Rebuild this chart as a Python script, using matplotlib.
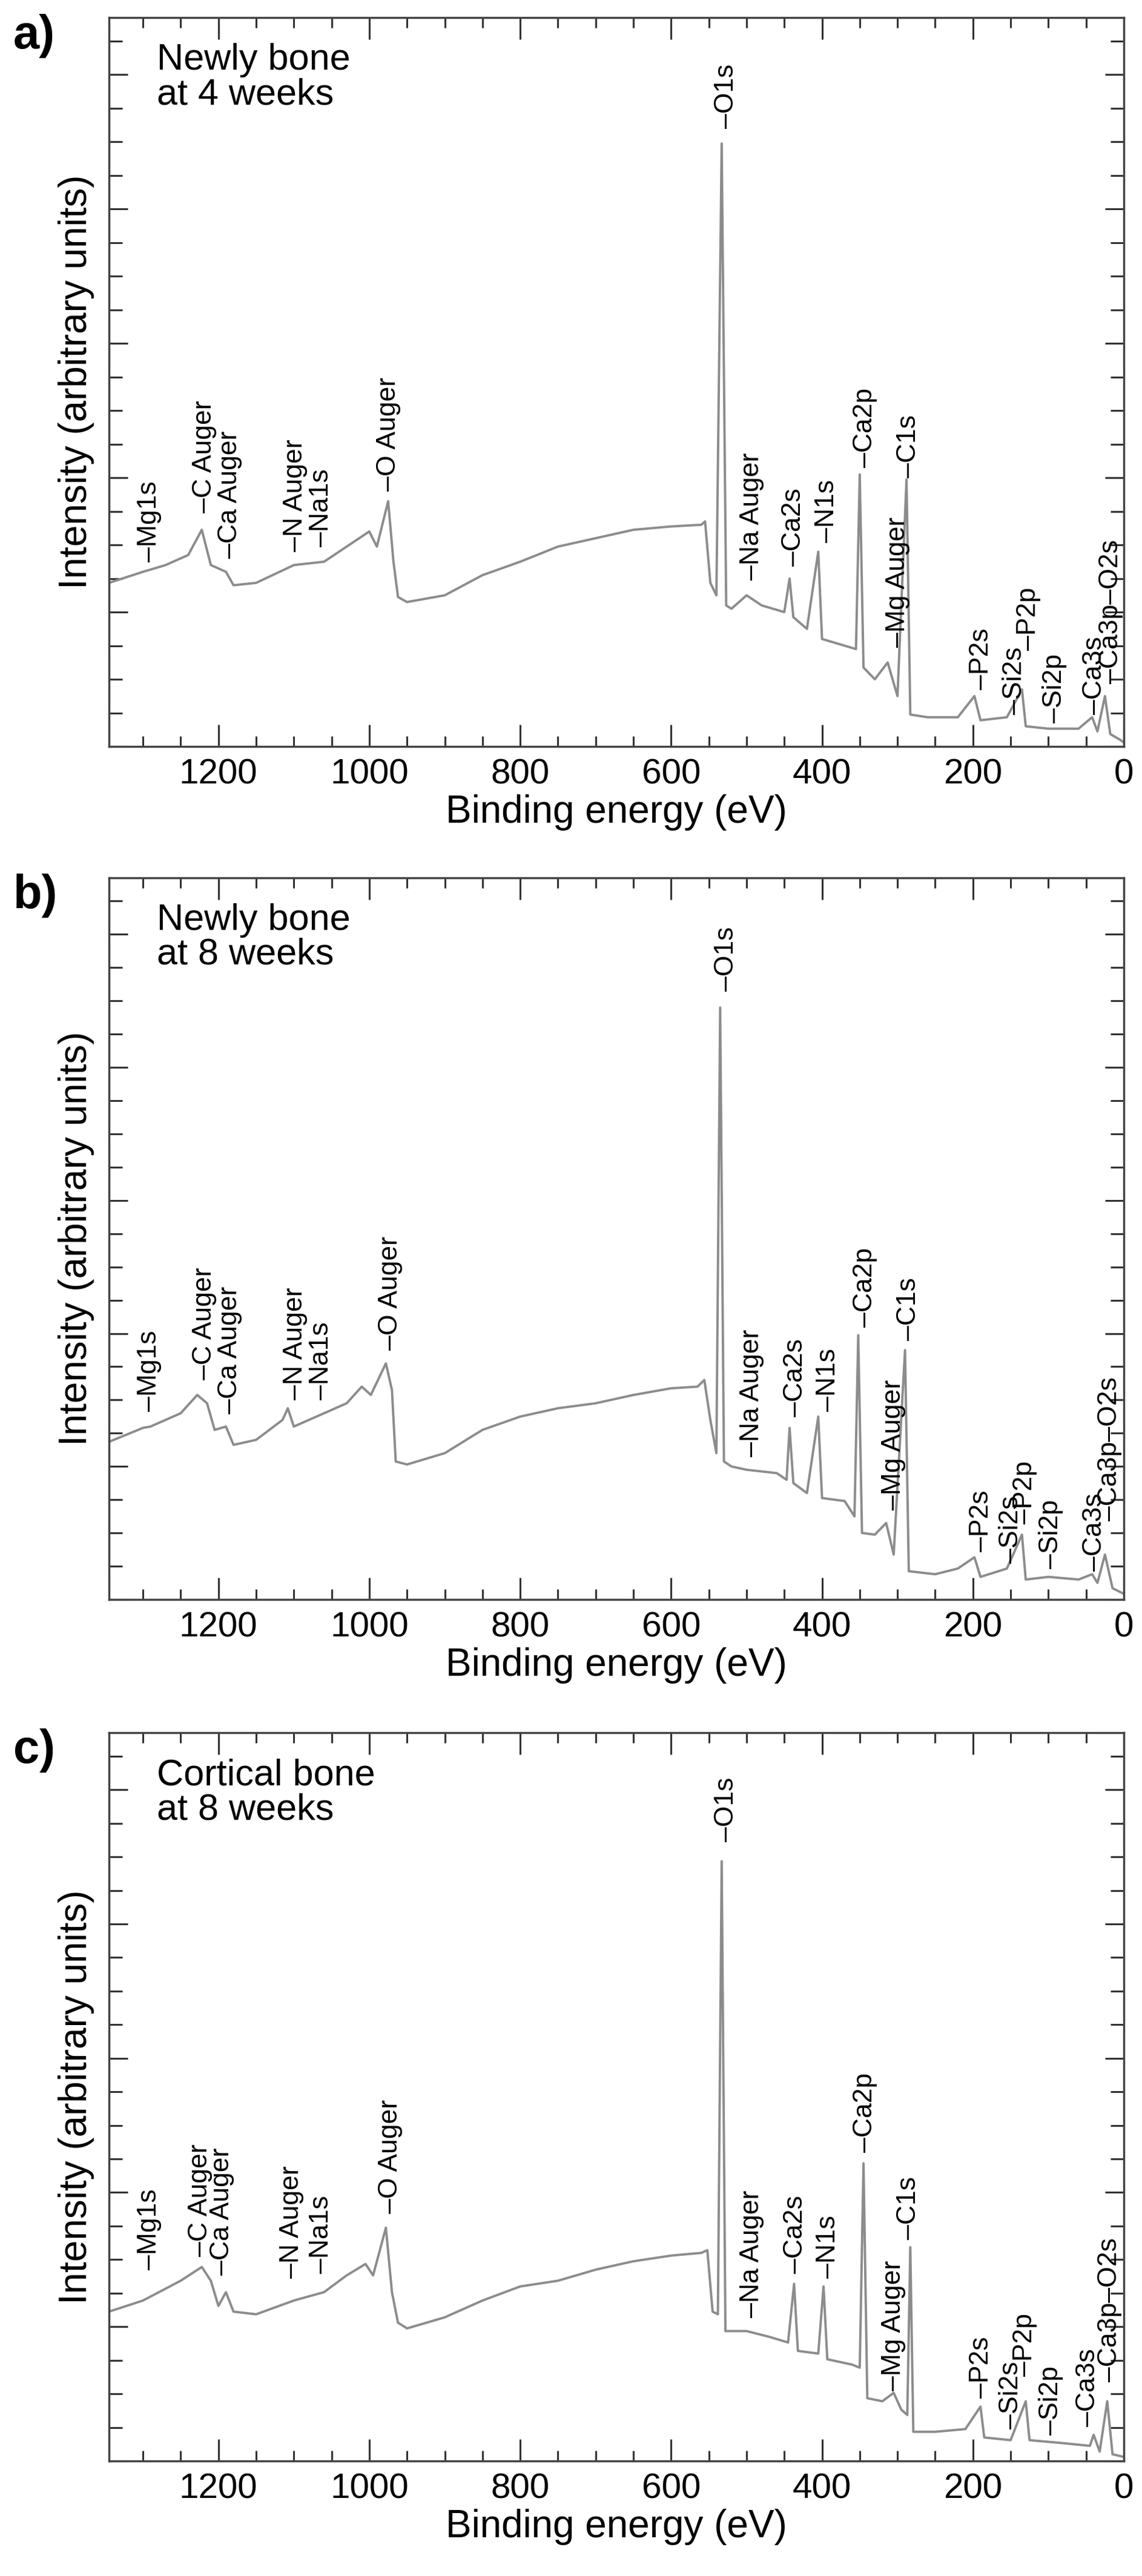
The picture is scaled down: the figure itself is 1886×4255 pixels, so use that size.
import matplotlib
matplotlib.use("Agg")
import matplotlib.pyplot as plt
from matplotlib.ticker import MultipleLocator

NARROW = ["Liberation Sans Narrow", "Liberation Sans", "DejaVu Sans"]
plt.rcParams["font.family"] = ["Liberation Sans", "DejaVu Sans"]

# ---- data, binding energy eV / intensity (a.u.)
ev_a = [1345, 1300, 1270, 1240, 1222, 1210, 1190, 1180, 1150, 1100, 1060, 1030, 1000, 990,
        975, 968, 962, 950, 900, 850, 800, 750, 700, 650, 600, 560, 555, 548, 540, 533,
        527, 520, 500, 480, 450, 443, 438, 420, 405, 400, 370, 355, 350, 345, 330, 313,
        300, 288, 283, 260, 220, 198, 190, 155, 135, 130, 100, 60, 42, 35, 25, 18, 5, 0]
int_a = [4.87, 5.2, 5.4, 5.7, 6.45, 5.4, 5.2, 4.8, 4.87, 5.4, 5.5, 5.95, 6.4, 5.95,
         7.3, 5.5, 4.45, 4.3, 4.5, 5.1, 5.5, 5.95, 6.2, 6.45, 6.55, 6.6, 6.7, 4.87, 4.5, 17.95,
         4.2, 4.1, 4.5, 4.2, 4.0, 5.0, 3.85, 3.5, 5.8, 3.2, 3.0, 2.9, 8.1, 2.35, 2.0, 2.5,
         1.5, 7.95, 0.95, 0.87, 0.87, 1.5, 0.78, 0.87, 1.7, 0.6, 0.53, 0.53, 0.87, 0.45, 1.5, 0.37, 0.2, 0.12]

ev_b = [1345, 1300, 1290, 1250, 1228, 1215, 1205, 1190, 1180, 1150, 1115, 1108, 1100, 1060,
        1030, 1010, 998, 978, 970, 965, 950, 900, 850, 800, 750, 700, 650, 600, 565, 556,
        548, 540, 535, 530, 520, 500, 460, 447, 443, 438, 420, 405, 400, 370, 357, 352,
        347, 330, 315, 305, 290, 285, 250, 220, 198, 190, 155, 135, 130, 100, 60, 42, 35,
        25, 15, 0]
int_b = [4.74, 5.16, 5.2, 5.6, 6.15, 5.9, 5.1, 5.2, 4.65, 4.8, 5.4, 5.75, 5.2, 5.6,
         5.9, 6.4, 6.15, 7.1, 6.3, 4.15, 4.06, 4.4, 5.1, 5.5, 5.75, 5.9, 6.15, 6.35, 6.4, 6.6,
         5.4, 4.4, 17.8, 4.15, 4.0, 3.9, 3.8, 3.6, 5.16, 3.5, 3.2, 5.5, 3.05, 2.96, 2.5, 7.95,
         2.0, 1.95, 2.3, 1.35, 7.5, 0.85, 0.76, 0.93, 1.27, 0.68, 0.93, 1.95, 0.6, 0.68, 0.6, 0.76, 0.5,
         1.35, 0.34, 0.17]

ev_c = [1345, 1300, 1250, 1222, 1210, 1200, 1190, 1180, 1150, 1100, 1060, 1030, 1005, 995,
        978, 970, 962, 950, 900, 850, 800, 750, 700, 650, 600, 560, 552, 545, 538, 533,
        528, 500, 470, 445, 437, 432, 405, 398, 393, 360, 350, 345, 340, 320, 305, 295,
        287, 283, 279, 250, 210, 190, 185, 150, 130, 125, 80, 45, 40, 32, 22, 15, 0]
int_c = [4.45, 4.78, 5.37, 5.78, 5.37, 4.62, 5.03, 4.45, 4.37, 4.78, 5.03, 5.53, 5.87, 5.53,
         6.95, 5.03, 4.12, 3.95, 4.28, 4.78, 5.2, 5.37, 5.7, 5.95, 6.12, 6.2, 6.28, 4.45, 4.37, 17.87,
         3.87, 3.87, 3.7, 3.53, 5.28, 3.28, 3.2, 5.2, 3.03, 2.87, 2.78, 8.87, 1.87, 1.78, 2.03, 1.53,
         1.37, 6.37, 0.87, 0.87, 0.95, 1.62, 0.7, 0.62, 1.78, 0.62, 0.53, 0.45, 0.78, 0.28, 1.78, 0.2, 0.12]

peak_names = ["Mg1s", "C Auger", "Ca Auger", "N Auger", "Na1s", "O Auger", "O1s", "Na Auger",
              "Ca2s", "N1s", "Ca2p", "Mg Auger", "C1s", "P2s", "Si2s", "P2p", "Si2p", "Ca3s", "Ca3p\u2013O2s"]
label_ev_a = [1292, 1219, 1185, 1098, 1064, 975, 527, 493, 438, 394, 343, 300, 285, 189, 145, 126, 92, 39, 17]
label_y_a = [5.5, 6.95, 5.6, 5.8, 5.95, 7.6, 18.4, 4.95, 5.37, 6.07, 8.3, 2.95, 8.0, 1.7, 0.95, 2.87, 0.7, 0.95, 1.87]
label_ev_b = [1292, 1219, 1185, 1098, 1064, 972, 527, 493, 435, 392, 343, 305, 285, 189, 150, 131, 97, 39, 19]
label_y_b = [5.67, 6.6, 5.58, 6.0, 6.0, 7.5, 18.3, 4.3, 5.5, 5.67, 8.2, 2.7, 7.8, 1.44, 1.1, 2.28, 0.93, 0.85, 2.37]
label_ev_c = [1292, 1224, 1195, 1103, 1064, 972, 527, 493, 435, 392, 343, 305, 285, 189, 150, 131, 97, 48, 19]
label_y_c = [5.7, 6.1, 5.53, 5.45, 5.6, 7.37, 18.45, 4.28, 5.6, 5.45, 9.2, 2.1, 6.6, 1.87, 0.95, 2.53, 0.78, 1.03, 2.37]

panels = [
    ("a)", "Newly bone\nat 4 weeks", ev_a, int_a, label_ev_a, label_y_a, 29, 1233),
    ("b)", "Newly bone\nat 8 weeks", ev_b, int_b, label_ev_b, label_y_b, 1450, 2642),
    ("c)", "Cortical bone\nat 8 weeks", ev_c, int_c, label_ev_c, label_y_c, 2862, 4065),
]

W, H = 1886, 4255
fig = plt.figure(figsize=(W / 100, H / 100), dpi=100)

for letter, note, ev, inten, lev, ly, top, bottom in panels:
    ax = fig.add_axes([180 / W, 1 - bottom / H, (1856 - 180) / W, (bottom - top) / H])
    ax.plot(ev, inten, color="#8c8c8c", lw=2.8)
    ax.set_xlim(1345, 0)
    ax.set_ylim(0, 21.7)
    ax.xaxis.set_major_locator(MultipleLocator(200))
    ax.xaxis.set_minor_locator(MultipleLocator(50))
    ax.yaxis.set_major_locator(MultipleLocator(4))
    ax.yaxis.set_minor_locator(MultipleLocator(1))
    ax.tick_params(which="both", direction="in", top=True, right=True, width=2.2, color="#333333")
    ax.tick_params(which="major", length=26)
    ax.tick_params(which="minor", length=12)
    ax.tick_params(axis="y", which="major", length=22)
    ax.tick_params(axis="y", which="minor", length=16)
    ax.set_yticklabels([])
    for lab in ax.get_xticklabels():
        lab.set_family(NARROW)
        lab.set_fontsize(42)
    ax.tick_params(axis="x", pad=14)
    for s in ax.spines.values():
        s.set_linewidth(2.5)
        s.set_color("#444444")
    ax.set_xlabel("Binding energy (eV)", family=NARROW, fontsize=46, labelpad=4)
    ax.set_ylabel("Intensity (arbitrary units)", family=NARROW, fontsize=46, labelpad=14)
    for name, x, y in zip(peak_names, lev, ly):
        ax.text(x, y, "\u2013" + name, rotation=90, ha="center", va="bottom", fontsize=32)
    ax.text(0.047, 0.965, note, transform=ax.transAxes, ha="left", va="top",
            family=NARROW, fontsize=44, linespacing=1.0)
    fig.text(22 / W, 1 - (top + 30) / H, letter, ha="left", va="center",
             family=NARROW, fontsize=56, fontweight="bold")

fig.savefig("out.png", dpi=100)
